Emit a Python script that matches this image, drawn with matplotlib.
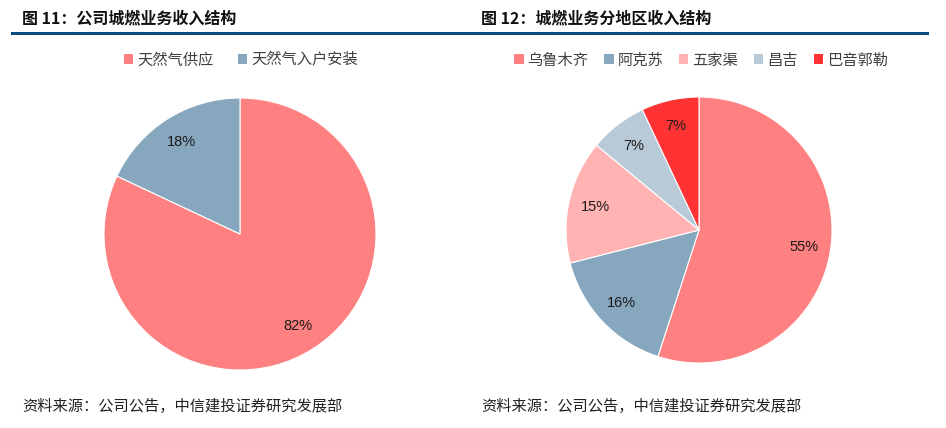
import matplotlib
matplotlib.use("Agg")
import matplotlib.pyplot as plt
from matplotlib.patches import Patch, Rectangle

plt.rcParams['font.family'] = ['Noto Sans CJK SC', 'DejaVu Sans']

W, H = 946, 428

title1 = "图 11：公司城燃业务收入结构"
title2 = "图 12：城燃业务分地区收入结构"
source = "资料来源：公司公告，中信建投证券研究发展部"

labels1 = ["天然气供应", "天然气入户安装"]
values1 = [82, 18]
colors1 = ["#FF8080", "#87A7BF"]

labels2 = ["乌鲁木齐", "阿克苏", "五家渠", "昌吉", "巴音郭勒"]
values2 = [55, 16, 15, 7, 7]
colors2 = ["#FF8080", "#87A7BF", "#FFB3B3", "#B8CAD8", "#FF3333"]

fig = plt.figure(figsize=(W / 100, H / 100), dpi=100)
fig.patch.set_facecolor("white")


def px_axes(x0, y0, x1, y1):
    return fig.add_axes([x0 / W, 1 - y1 / H, (x1 - x0) / W, (y1 - y0) / H])


def draw_pie(ax, values, colors):
    ax.pie(
        values, colors=colors, startangle=90, counterclock=False,
        autopct=lambda p: f"{p:.0f}%", pctdistance=0.8,
        textprops=dict(fontsize=10.5, color="#1a1a1a", family=["Liberation Sans", "DejaVu Sans"]),
        wedgeprops=dict(linewidth=0.8, edgecolor="white"))
    ax.set_aspect("equal")
    ax.set_xlim(-1, 1)
    ax.set_ylim(-1, 1)
    ax.axis("off")


ax1 = px_axes(104, 98, 376, 370)
draw_pie(ax1, values1, colors1)
ax2 = px_axes(566, 97, 832, 363)
draw_pie(ax2, values2, colors2)

# titles
fig.text(22 / W, 1 - 18 / H, title1, fontsize=11.5, fontweight="bold", va="center", ha="left", color="#111111")
fig.text(481 / W, 1 - 18 / H, title2, fontsize=11.5, fontweight="bold", va="center", ha="left", color="#111111")

# rules
for x0, x1 in [(11, 473), (473, 929)]:
    fig.add_artist(Rectangle((x0 / W, 1 - 35 / H), (x1 - x0) / W, 3 / H,
                             transform=fig.transFigure, color="#0E4D80", lw=0))


def legend(labels, colors, xc, gap):
    handles = [Patch(facecolor=c, edgecolor="none") for c in colors]
    fig.legend(handles, labels, loc="center", bbox_to_anchor=(xc / W, 1 - 60 / H),
               ncol=len(labels), frameon=False, fontsize=11, handlelength=0.6, handleheight=0.6,
               handletextpad=0.25, columnspacing=gap, labelcolor="#404040")


legend(labels1, colors1, 241, 1.6)
legend(labels2, colors2, 701, 1.05)

# sources
for x in (22, 481):
    fig.text(x / W, 1 - 406 / H, source, fontsize=11, style="italic", va="center", ha="left", color="#222222")

fig.savefig("out.png", dpi=100, facecolor="white")
